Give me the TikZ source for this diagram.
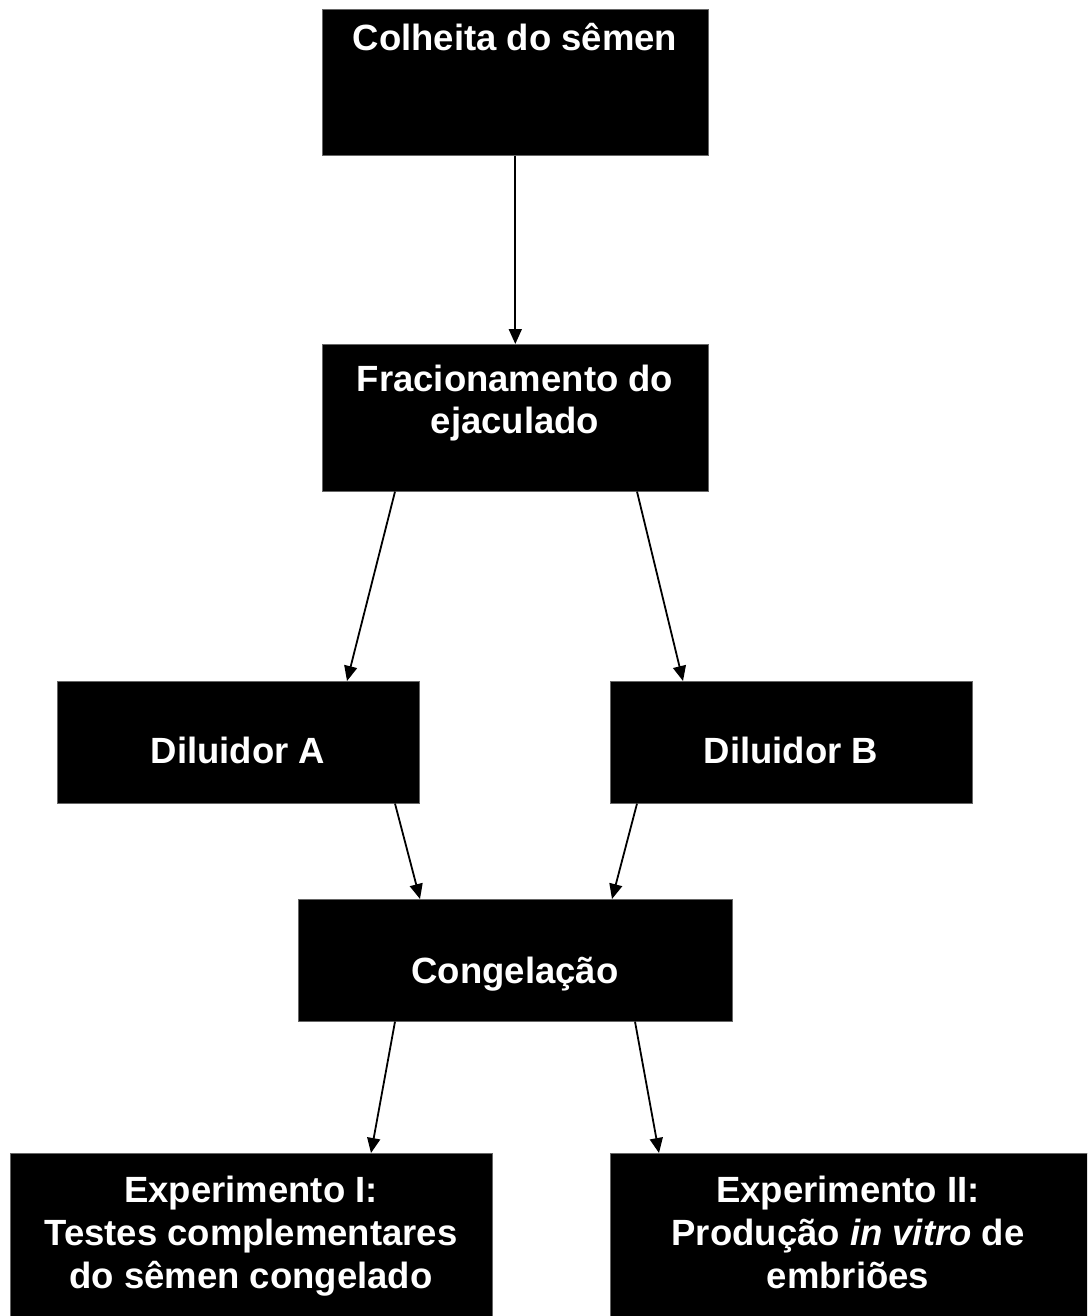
\documentclass[tikz,border=0pt]{standalone}
\usepackage{fontspec}
\setmainfont{Liberation Sans}
\usetikzlibrary{arrows.meta}
\begin{document}
\begin{tikzpicture}[x=1pt,y=-1pt,
  box/.style={fill=black, draw=black!60, line width=0.6pt, inner sep=0pt, anchor=north west},
  lbl/.style={text=white, font=\fontsize{36.5}{43}\selectfont\bfseries, anchor=base, inner sep=0pt},
  conn/.style={line width=1.8pt, -{Triangle[length=15pt,width=13pt]}}]
\useasboundingbox (0,0) rectangle (1087,1316);
\begin{scope}
\clip (0,0) rectangle (1087,1316);
\node[box, minimum width=386pt, minimum height=146pt] (b1) at (322,9) {};
\node[box, minimum width=386pt, minimum height=147pt] (b2) at (322,344) {};
\node[box, minimum width=362pt, minimum height=122pt] (b3) at (57,681) {};
\node[box, minimum width=362pt, minimum height=122pt] (b4) at (610,681) {};
\node[box, minimum width=434pt, minimum height=122pt] (b5) at (298,899) {};
\node[box, minimum width=482pt, minimum height=175pt] (b6) at (10,1153) {};
\node[box, minimum width=495pt, minimum height=175pt] (b7) at (610,1153) {};
\end{scope}

\node[lbl] (t1) at (515,51) {Colheita do sêmen};
\node[lbl] (t2a) at (515,391) {Fracionamento do};
\node[lbl] (t2b) at (515,433) {ejaculado};
\node[lbl] (t3) at (238,763) {Diluidor A};
\node[lbl] (t4) at (791,763) {Diluidor B};
\node[lbl] (t5) at (515,983) {Congelação};
\node[lbl] (t6a) at (251,1202) {Experimento I:};
\node[lbl] (t6b) at (251,1245) {Testes complementares};
\node[lbl] (t6c) at (251,1288) {do sêmen congelado};
\node[lbl] (t7a) at (848,1202) {Experimento II:};
\node[lbl] (t7b) at (848,1245) {Produção \textit{in vitro} de};
\node[lbl] (t7c) at (848,1288) {embriões};

\draw[conn] (b1.south) -- (b2.north);
\draw[conn] ([xshift=73pt]b2.south west) -- ([xshift=290pt]b3.north west);
\draw[conn] ([xshift=315pt]b2.south west) -- ([xshift=73pt]b4.north west);
\draw[conn] ([xshift=338pt]b3.south west) -- ([xshift=122pt]b5.north west);
\draw[conn] ([xshift=27pt]b4.south west) -- ([xshift=314pt]b5.north west);
\draw[conn] ([xshift=97pt]b5.south west) -- ([xshift=361pt]b6.north west);
\draw[conn] ([xshift=337pt]b5.south west) -- ([xshift=49pt]b7.north west);
\end{tikzpicture}
\end{document}
